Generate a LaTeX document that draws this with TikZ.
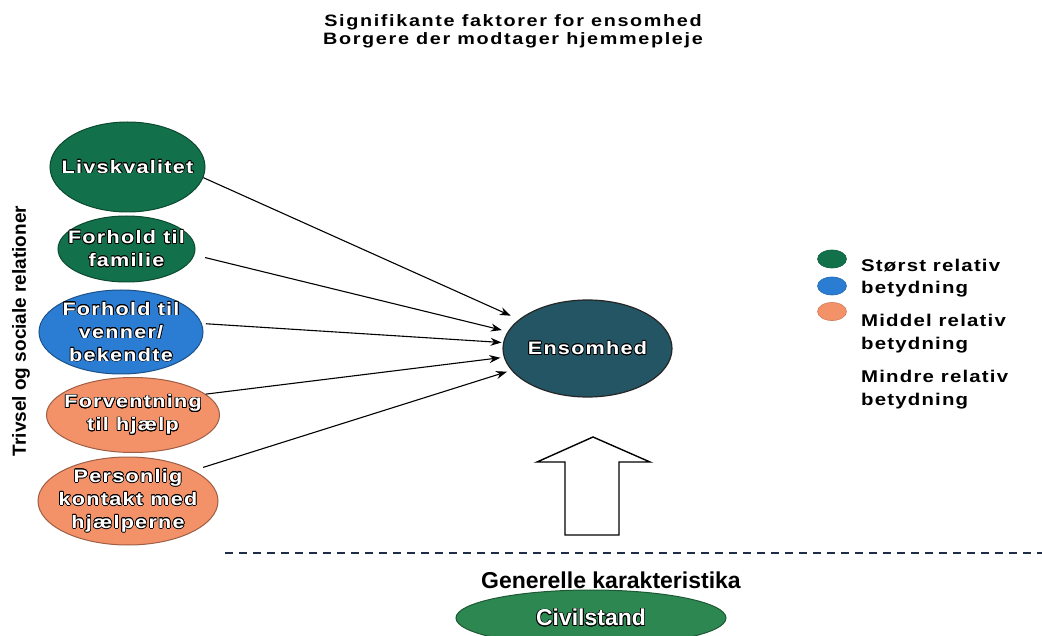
\documentclass[tikz,border=0pt]{standalone}
\usepackage{fontspec}
\setmainfont{Liberation Sans}
\newfontfamily\wfont[FakeStretch=1.2,LetterSpace=7]{Liberation Sans}
\usepackage[copies]{contour}
\contourlength{0.7pt}
\usetikzlibrary{shapes.geometric,arrows.meta}
\definecolor{gA}{HTML}{12704A}
\definecolor{bA}{HTML}{2A7DD2}
\definecolor{oA}{HTML}{F39169}
\definecolor{tA}{HTML}{235564}
\definecolor{cA}{HTML}{2D8750}
\definecolor{dashc}{HTML}{1F2E48}
\newcommand\olt[1]{\contour{black}{#1}}
\tikzset{
  bub/.style={ellipse, draw=#1!65!black, fill=#1, line width=1pt, text=white,
    font=\wfont\bfseries\fontsize{18}{23}\selectfont, align=center, inner xsep=-16pt, inner ysep=-9pt},
  conn/.style={-{Stealth[length=11pt,width=8pt]}, line width=1.1pt, black},
  legdot/.style={ellipse, minimum width=29pt, minimum height=18pt, fill=#1, draw=#1!85!black, line width=0.6pt, inner sep=0pt},
  legtxt/.style={anchor=base west, inner sep=0pt, font=\wfont\bfseries\fontsize{17}{22}\selectfont, text=black},
  ttl/.style={anchor=base, inner sep=0pt, font=\wfont\bfseries\fontsize{16.5}{17}\selectfont\addfontfeature{LetterSpace=10}},
}
\begin{document}
\begin{tikzpicture}[x=1pt,y=-1pt]
\useasboundingbox (0,0) rectangle (1042,636);
\fill[white] (0,0) rectangle (1042,636);

% title
\node[ttl] (t1) at (513,27) {Signifikante faktorer for ensomhed};
\node[ttl] (t2) at (513,45) {Borgere der modtager hjemmepleje};

% side label
\node[rotate=90, inner sep=0pt, font=\bfseries\fontsize{19}{22}\selectfont] (side) at (21,331) {Trivsel og sociale relationer};

% factor ellipses
\node[bub=gA, minimum width=155pt, minimum height=90pt] (liv) at (127.5,167) {\olt{Livskvalitet}};
\node[bub=gA, minimum width=137pt, minimum height=66pt] (fam) at (126.5,249) {\olt{Forhold til}\\\olt{familie}};
\node[bub=bA, minimum width=164pt, minimum height=84pt] (ven) at (121,332) {\olt{Forhold til}\\\olt{venner/}\\\olt{bekendte}};
\node[bub=oA, minimum width=173pt, minimum height=75pt] (forv) at (133,415) {\olt{Forventning}\\\olt{til hjælp}};
\node[bub=oA, minimum width=180pt, minimum height=88pt] (pers) at (128,501) {\olt{Personlig}\\\olt{kontakt med}\\\olt{hjælperne}};

% target
\node[ellipse, draw=black!85, fill=tA, line width=1.2pt, minimum width=169pt, minimum height=97pt, text=white,
  font=\wfont\bfseries\fontsize{18}{22}\selectfont, inner sep=0pt] (ens) at (587.5,348.5) {\olt{Ensomhed}};

% connectors
\draw[conn, shorten >=9pt] (liv.-8.7) -- (ens.157.9);
\draw[conn, shorten <=11pt, shorten >=6pt] (fam.-5.8) -- (ens.168.4);
\draw[conn, shorten <=4pt, shorten >=1.5pt] (ven.6.8) -- (ens.176.3);
\draw[conn, shorten >=3.5pt] (forv.16.3) -- (ens.186.3);
\draw[conn, shorten <=10pt, shorten >=4.5pt] (pers.25.6) -- (ens.196.5);

% block arrow
\draw[line width=1.4pt, fill=white, line join=miter] (565,535) -- (565,462) -- (537,462) -- (593,437) -- (650,462) -- (619,462) -- (619,535) -- cycle;

% dashed separator
\coordinate (dl) at (225,553);
\coordinate (dr) at (1042,553);
\draw[dash pattern=on 8pt off 6pt, line width=1.4pt, dashc] (dl) -- (dr);

% general characteristics
\node[anchor=base, inner sep=0pt, font=\bfseries\fontsize{23}{26}\selectfont] (gen) at (611,588) {Generelle karakteristika};
\node[ellipse, draw=cA!65!black, fill=cA, line width=1pt, minimum width=270pt, minimum height=56pt, text=white,
  font=\bfseries\fontsize{23}{26}\selectfont, inner sep=0pt] (civ) at (591,618) {\olt{Civilstand}};

% legend
\node[legdot=gA] (lg1) at (832,259) {};
\node[legdot=bA] (lg2) at (832,286) {};
\node[legdot=oA] (lg3) at (832,311.5) {};
\node[legtxt] (l1a) at (861,272) {Størst relativ};
\node[legtxt] (l1b) at (861,294) {betydning};
\node[legtxt] (l2a) at (861,327) {Middel relativ};
\node[legtxt] (l2b) at (861,350) {betydning};
\node[legtxt] (l3a) at (861,383) {Mindre relativ};
\node[legtxt] (l3b) at (861,406) {betydning};
\end{tikzpicture}
\end{document}
